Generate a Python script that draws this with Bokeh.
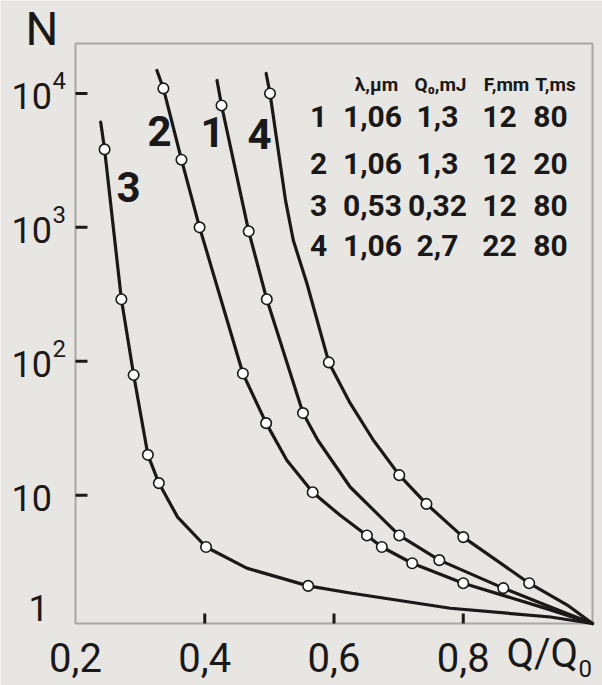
import math
from bokeh.plotting import figure
from bokeh.models import Label, Range1d, BoxAnnotation
from bokeh.embed import file_html
from bokeh.resources import INLINE

# ---------------- data ----------------
# curve 3
q3_pts = [0.245, 0.271, 0.290, 0.312, 0.329, 0.402, 0.560]
n3_pts = [3820, 290, 79, 20, 12.3, 4.1, 2.1]
q3_line = [0.239, 0.245, 0.271, 0.290, 0.312, 0.329, 0.358, 0.402, 0.465, 0.560, 0.625, 0.780, 0.935, 1.0]
n3_line = [6100, 3820, 290, 79, 20, 12.3, 6.85, 4.1, 2.85, 2.1, 1.86, 1.43, 1.23, 1.1]
# curve 2
q2_pts = [0.336, 0.364, 0.392, 0.459, 0.495, 0.567, 0.651, 0.674, 0.721, 0.800]
n2_pts = [10900, 3200, 1000, 81, 34.5, 10.5, 5.0, 4.1, 3.1, 2.2]
q2_line = [0.326, 0.336, 0.364, 0.392, 0.459, 0.495, 0.527, 0.567, 0.609, 0.651, 0.674, 0.721, 0.800, 0.935, 1.0]
n2_line = [14850, 10900, 3200, 1000, 81, 34.5, 18.2, 10.5, 7.1, 5.0, 4.1, 3.1, 2.2, 1.39, 1.1]
# curve 1
q1_pts = [0.426, 0.468, 0.496, 0.552, 0.701, 0.763, 0.862]
n1_pts = [8130, 934, 290, 41, 5.0, 3.27, 2.02]
q1_line = [0.419, 0.426, 0.468, 0.496, 0.552, 0.575, 0.625, 0.701, 0.763, 0.862, 0.935, 1.0]
n1_line = [12500, 8130, 934, 290, 41, 25.7, 11.5, 5.0, 3.27, 2.02, 1.46, 1.1]
# curve 4
q4_pts = [0.501, 0.592, 0.701, 0.743, 0.800, 0.902]
n4_pts = [10000, 98, 14.1, 8.6, 4.86, 2.2]
q4_line = [0.495, 0.501, 0.525, 0.537, 0.558, 0.592, 0.625, 0.661, 0.701, 0.743, 0.800, 0.902, 0.961, 1.0]
n4_line = [14100, 10000, 1590, 800, 382, 98, 48.6, 25.7, 14.1, 8.6, 4.86, 2.2, 1.51, 1.1]

# ticks
x_tick_values = [0.2, 0.4, 0.6, 0.8]
x_tick_labels = ["0,2", "0,4", "0,6", "0,8"]
x_tick_marks = [0.4, 0.6, 0.8]
y_tick_values = [10000, 1000, 100, 10]
y_tick_base = ["10", "10", "10", "10"]
y_tick_exp = ["4", "3", "2", ""]

# table
tbl_header = ["λ,μm", "Q₀,mJ", "F,mm", "T,ms"]
tbl_ids = ["1", "2", "3", "4"]
tbl_lambda = ["1,06", "1,06", "0,53", "1,06"]
tbl_q0 = ["1,3", "1,3", "0,32", "2,7"]
tbl_f = ["12", "12", "12", "22"]
tbl_t = ["80", "20", "80", "80"]

# ---------------- geometry helpers (canvas pixels <-> data) ----------------
X0, X1 = 0.2, 1.0          # plot box, Q/Q0
Y0, Y1 = 1.1, 23600.0      # plot box, N
PX_L, PX_R = 75, 592
PY_T, PY_B = 43, 623

def px2x(px):
    return X0 + (px - PX_L) / (PX_R - PX_L) * (X1 - X0)

def px2y(py):
    l0, l1 = math.log10(Y0), math.log10(Y1)
    return 10 ** (l0 + (PY_B - py) / (PY_B - PY_T) * (l1 - l0))

def x2px(x):
    return PX_L + (x - X0) / (X1 - X0) * (PX_R - PX_L)

def y2px(y):
    l0, l1 = math.log10(Y0), math.log10(Y1)
    return PY_B - (math.log10(y) - l0) / (l1 - l0) * (PY_B - PY_T)

BG = "#e8e6e2"
INK = "#1a1818"
FONT = "Roboto"

W, H = 602, 685
p = figure(width=W, height=H, y_axis_type="log",
           x_range=Range1d(px2x(0), px2x(W)),
           y_range=Range1d(px2y(H), px2y(0)),
           x_axis_location=None, y_axis_location=None,
           output_backend="svg", toolbar_location=None, min_border=0)
p.background_fill_color = BG
p.border_fill_color = BG
p.outline_line_color = None
p.grid.visible = False

# plot box
p.add_layout(BoxAnnotation(left=X0, right=X1, bottom=Y0, top=Y1,
                           fill_color=None, fill_alpha=0,
                           line_color=INK, line_width=2))

# tick marks (inside)
p.ray(x=x_tick_marks, y=[Y0] * len(x_tick_marks), length=10, length_units="screen",
      angle=math.pi / 2, line_color=INK, line_width=3)
p.ray(x=[X0] * len(y_tick_values), y=y_tick_values, length=12, length_units="screen",
      angle=0, line_color=INK, line_width=3)

# curves
for qx, ny, qp, npnt in [(q3_line, n3_line, q3_pts, n3_pts),
                         (q2_line, n2_line, q2_pts, n2_pts),
                         (q1_line, n1_line, q1_pts, n1_pts),
                         (q4_line, n4_line, q4_pts, n4_pts)]:
    p.line(qx, ny, line_color=INK, line_width=3.2, line_join="round", line_cap="round")
    p.scatter(qp, npnt, size=10.5, marker="circle", fill_color="white",
              line_color=INK, line_width=1.6)

def add_label(text, px, py, size, align="left", bold=False):
    # py is the wanted baseline on the canvas; the renderer sits text ~0.4em low
    yb = py - 0.4 * size
    p.add_layout(Label(x=px2x(px), y=px2y(yb), text=text, text_font=FONT,
                       text_font_size=f"{size}px", text_color=INK,
                       text_align=align, text_baseline="alphabetic",
                       text_font_style="bold" if bold else "normal"))

# x tick labels
for v, t in zip(x_tick_values, x_tick_labels):
    add_label(t, x2px(v), 673, 40, align="center")

# y tick labels
for v, b, e in zip(y_tick_values, y_tick_base, y_tick_exp):
    ty = y2px(v)
    add_label(b, 11, ty + 17, 36)
    if e:
        add_label(e, 52, ty - 3, 24)
add_label("1", 28, 622, 36)

# axis titles
add_label("N", 25, 47, 46)
add_label("Q/Q", 506, 669, 40)
add_label("0", 578, 678, 24)

# curve labels
for t, px, py in [("3", 128, 203), ("2", 159, 147), ("1", 212, 148), ("4", 259, 150)]:
    add_label(t, px, py, 42, align="center", bold=True)

# table
for t, cx in zip(tbl_header, [376, 440, 506, 555]):
    add_label(t, cx, 92, 19, align="center", bold=True)
row_base = [128, 175, 217, 257]
for i, rb in enumerate(row_base):
    add_label(tbl_ids[i], 318, rb, 30, align="center", bold=True)
    add_label(tbl_lambda[i], 372, rb, 30, align="center", bold=True)
    add_label(tbl_q0[i], 437, rb, 30, align="center", bold=True)
    add_label(tbl_f[i], 499, rb, 30, align="center", bold=True)
    add_label(tbl_t[i], 550, rb, 30, align="center", bold=True)

open("out.html", "w").write(file_html(p, INLINE))
